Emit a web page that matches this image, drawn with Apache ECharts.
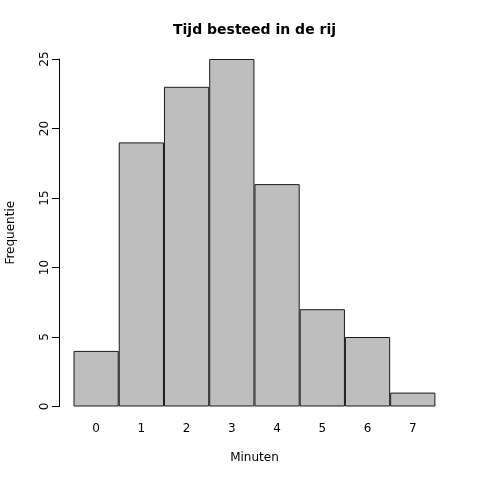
<!DOCTYPE html>
<html><head><meta charset="utf-8">
<script src="https://cdn.jsdelivr.net/npm/echarts@6/dist/echarts.min.js"></script>
<style>html,body{margin:0;padding:0;background:#fff}#c{width:480px;height:480px}</style>
</head><body><div id="c"></div>
<script>
const categories = ['0','1','2','3','4','5','6','7'];
const frequencies = [4, 19, 23, 25, 16, 7, 5, 1];
const yTicks = [0, 5, 10, 15, 20, 25];

const chart = echarts.init(document.getElementById('c'), null, {renderer: 'canvas'});
chart.setOption({
  animation: false,
  backgroundColor: '#fff',
  textStyle: {fontFamily: 'DejaVu Sans'},
  graphic: [{
    type: 'text', x: 254.5, y: 30,
    style: {text: 'Tijd besteed in de rij', fill: '#000', font: 'bold 14px "DejaVu Sans"', align: 'center', verticalAlign: 'middle'}
  }],
  grid: {left: 73.5, right: 44.6, top: 59, bottom: 73.5, containLabel: false, outerBoundsMode: 'none'},
  xAxis: {
    type: 'category', data: categories, boundaryGap: true,
    axisLine: {show: false}, axisTick: {show: false}, splitLine: {show: false},
    axisLabel: {color: '#000', fontSize: 12, margin: 16, fontFamily: 'DejaVu Sans'},
    name: 'Minuten', nameLocation: 'middle', nameGap: 45,
    nameTextStyle: {color: '#000', fontSize: 12, fontFamily: 'DejaVu Sans'}
  },
  yAxis: {
    type: 'value', min: 0, max: 25, interval: 5, offset: 14.5,
    axisLine: {show: true, lineStyle: {color: '#000', width: 1}},
    axisTick: {show: true, inside: false, length: 7, lineStyle: {color: '#000'}},
    splitLine: {show: false},
    axisLabel: {color: '#000', fontSize: 12, margin: 8, rotate: 90, fontFamily: 'DejaVu Sans',
      formatter: v => yTicks.includes(v) ? String(v) : ''},
    name: 'Frequentie', nameLocation: 'middle', nameGap: 42, nameRotate: 90,
    nameTextStyle: {color: '#000', fontSize: 12, fontFamily: 'DejaVu Sans'}
  },
  series: [{
    type: 'bar', data: frequencies, barWidth: '100%', barCategoryGap: 0,
    itemStyle: {color: '#bebebe', borderColor: '#1a1a1a', borderWidth: 1}
  }]
});
</script></body></html>
